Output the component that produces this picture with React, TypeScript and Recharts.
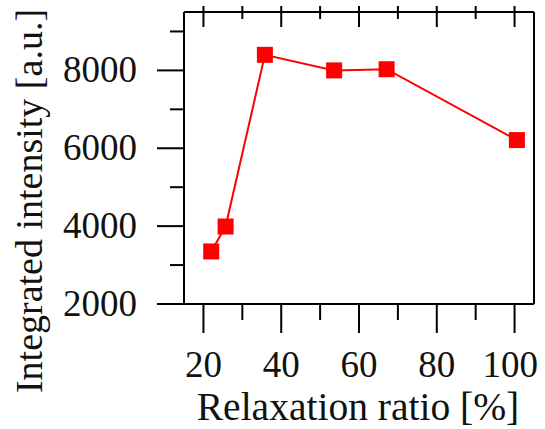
import React from 'react';
import { Line, LineChart, XAxis, YAxis, Label } from 'recharts';

// Relaxation ratio [%] vs integrated intensity [a.u.]
const relaxationRatio = [22, 25.7, 35.8, 53.6, 67.1, 100.6];
const intensity = [3350, 3990, 8400, 8000, 8030, 6210];

const xTicks = [20, 30, 40, 50, 60, 70, 80, 90, 100];
const yTicks = [2000, 3000, 4000, 5000, 6000, 7000, 8000, 9000];

const data = relaxationRatio.map((x, i) => ({ x, y: intensity[i] }));

const FONT = '"Liberation Serif", "Times New Roman", serif';
const RED = '#ff0000';

// Bottom axis: outward ticks, labels on the even ones
const BottomTick = (props: any) => {
  const { x, y, payload } = props;
  const v = payload.value as number;
  const major = v % 20 === 0;
  const last = v === xTicks[xTicks.length - 1];
  return (
    <g>
      <line x1={x} x2={x} y1={y} y2={y + (major ? 29 : 16)} stroke="#000" strokeWidth={2} />
      {major && (
        <text
          x={last ? Math.min(x + 28, 538) : x}
          y={y + 73}
          textAnchor={last ? 'end' : 'middle'}
          fontSize={37}
          fontFamily={FONT}
          fill="#111"
        >
          {v}
        </text>
      )}
    </g>
  );
};

// Top axis: ticks crossing the frame, no labels
const TopTick = (props: any) => {
  const { x, y, payload } = props;
  const major = (payload.value as number) % 20 === 0;
  return <line x1={x} x2={x} y1={y - 6} y2={y + (major ? 15 : 7)} stroke="#000" strokeWidth={2} />;
};

const LeftTick = (props: any) => {
  const { x, y, payload } = props;
  const v = payload.value as number;
  const major = v % 2000 === 0;
  return (
    <g>
      <line x1={x - (major ? 27 : 14)} x2={x} y1={y} y2={y} stroke="#000" strokeWidth={2} />
      {major && (
        <text x={x - 47} y={y + 12} textAnchor="end" fontSize={37} fontFamily={FONT} fill="#111">
          {v}
        </text>
      )}
    </g>
  );
};

const SquareDot = (props: any) => {
  const { cx, cy } = props;
  if (cx == null || cy == null) return null;
  return <rect x={cx - 8} y={cy - 8} width={16} height={16} fill={RED} />;
};

export default function App() {
  return (
    <div style={{ position: 'absolute', left: 0, top: 0, background: '#fff' }}>
      <LineChart
        width={545}
        height={429}
        data={data}
        margin={{ top: 11, right: 10, bottom: 0, left: 0 }}
      >
        <XAxis
          dataKey="x"
          type="number"
          domain={[15, 105]}
          ticks={xTicks}
          interval={0}
          allowDataOverflow
          height={125}
          tickSize={0}
          tickMargin={0}
          tickLine={false}
          tick={<BottomTick />}
          axisLine={{ stroke: '#000', strokeWidth: 2 }}
        >
          <Label
            content={() => (
              <text x={358} y={420} textAnchor="middle" fontSize={39.5} fontFamily={FONT} fill="#111">
                Relaxation ratio [%]
              </text>
            )}
          />
        </XAxis>
        <XAxis
          xAxisId="top"
          orientation="top"
          dataKey="x"
          type="number"
          domain={[15, 105]}
          ticks={xTicks}
          interval={0}
          allowDataOverflow
          height={1}
          tickSize={0}
          tickMargin={0}
          tickLine={false}
          tick={<TopTick />}
          axisLine={{ stroke: '#000', strokeWidth: 2 }}
        />
        <YAxis
          type="number"
          domain={[2000, 9500]}
          ticks={yTicks}
          interval={0}
          allowDataOverflow
          width={184}
          tickSize={0}
          tickMargin={0}
          tickLine={false}
          tick={<LeftTick />}
          axisLine={{ stroke: '#000', strokeWidth: 2 }}
        >
          <Label
            content={() => (
              <text
                x={42}
                y={201}
                transform="rotate(-90, 42, 201)"
                textAnchor="middle"
                fontSize={38}
                fontFamily={FONT}
                fill="#111"
              >
                Integrated intensity [a.u.]
              </text>
            )}
          />
        </YAxis>
        <YAxis
          yAxisId="right"
          orientation="right"
          type="number"
          domain={[2000, 9500]}
          width={1}
          tick={false}
          tickLine={false}
          axisLine={{ stroke: '#000', strokeWidth: 2 }}
        />
        <Line
          dataKey="y"
          stroke={RED}
          strokeWidth={2}
          dot={<SquareDot />}
          activeDot={false}
          isAnimationActive={false}
        />
      </LineChart>
    </div>
  );
}
